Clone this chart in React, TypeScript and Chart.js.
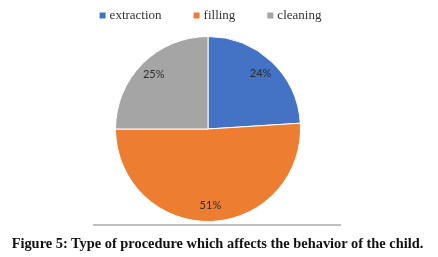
import React, { useEffect, useRef } from "react";
import { Chart, registerables } from "chart.js";

Chart.register(...registerables);

const categories = ["extraction", "filling", "cleaning"];
const values = [24, 51, 25];
const colors = ["#4472C4", "#ED7D31", "#A5A5A5"];
const caption = "Figure 5: Type of procedure which affects the behavior of the child.";

const sliceLabels = {
  id: "sliceLabels",
  afterDatasetsDraw(chart: any) {
    const ctx = chart.ctx;
    const meta = chart.getDatasetMeta(0);
    ctx.save();
    ctx.font = "11px Lato";
    ctx.fillStyle = "#2b2b2b";
    ctx.textAlign = "center";
    ctx.textBaseline = "middle";
    meta.data.forEach((arc: any, i: number) => {
      const p = arc.getProps(["x", "y", "startAngle", "endAngle", "outerRadius"], true);
      const mid = (p.startAngle + p.endAngle) / 2;
      const r = p.outerRadius * 0.83;
      ctx.fillText(values[i] + "%", p.x + Math.cos(mid) * r, p.y + Math.sin(mid) * r);
    });
    ctx.restore();
  },
};

const topLegend = {
  id: "topLegend",
  afterDraw(chart: any) {
    const ctx = chart.ctx;
    ctx.save();
    ctx.font = "13px 'Liberation Serif'";
    ctx.textBaseline = "middle";
    const box = 6;
    const gapBox = 4;
    const gapItem = 32;
    const widths = categories.map((c) => ctx.measureText(c).width);
    let total = 0;
    widths.forEach((w, i) => {
      total += box + gapBox + w + (i < widths.length - 1 ? gapItem : 0);
    });
    let x = 210.5 - total / 2;
    const y = 16;
    categories.forEach((c, i) => {
      ctx.fillStyle = colors[i];
      ctx.fillRect(x, y - box / 2 - 0.5, box, box);
      x += box + gapBox;
      ctx.fillStyle = "#333333";
      ctx.fillText(c, x, y);
      x += widths[i] + gapItem;
    });
    ctx.restore();
  },
};

export default function App() {
  const ref = useRef<HTMLCanvasElement | null>(null);
  useEffect(() => {
    if (!ref.current) return;
    const chart = new Chart(ref.current, {
      type: "pie",
      data: {
        labels: categories,
        datasets: [
          {
            data: values,
            backgroundColor: colors,
            borderColor: "#ffffff",
            borderWidth: 1,
          },
        ],
      },
      options: {
        responsive: false,
        animation: false,
        layout: { padding: { top: 36, bottom: 3, left: 0, right: 22 } },
        plugins: {
          legend: { display: false },
          tooltip: { enabled: false },
        },
      },
      plugins: [sliceLabels, topLegend],
    });
    return () => chart.destroy();
  }, []);

  return (
    <div
      style={{
        position: "absolute",
        left: 0,
        top: 0,
        width: 438,
        height: 257,
        background: "#fff",
        overflow: "hidden",
      }}
    >
      <canvas ref={ref} width={438} height={225} style={{ display: "block" }} />
      <div
        style={{
          position: "absolute",
          left: 93,
          top: 224,
          width: 248,
          height: 2,
          background: "#c0c0c0",
        }}
      />
      <div
        style={{
          position: "absolute",
          left: 0,
          top: 234,
          width: 435,
          textAlign: "center",
          fontFamily: "'Liberation Serif', serif",
          fontWeight: "bold",
          fontSize: 14.4,
          color: "#111111",
          whiteSpace: "nowrap",
          lineHeight: "18px",
        }}
      >
        {caption}
      </div>
    </div>
  );
}
